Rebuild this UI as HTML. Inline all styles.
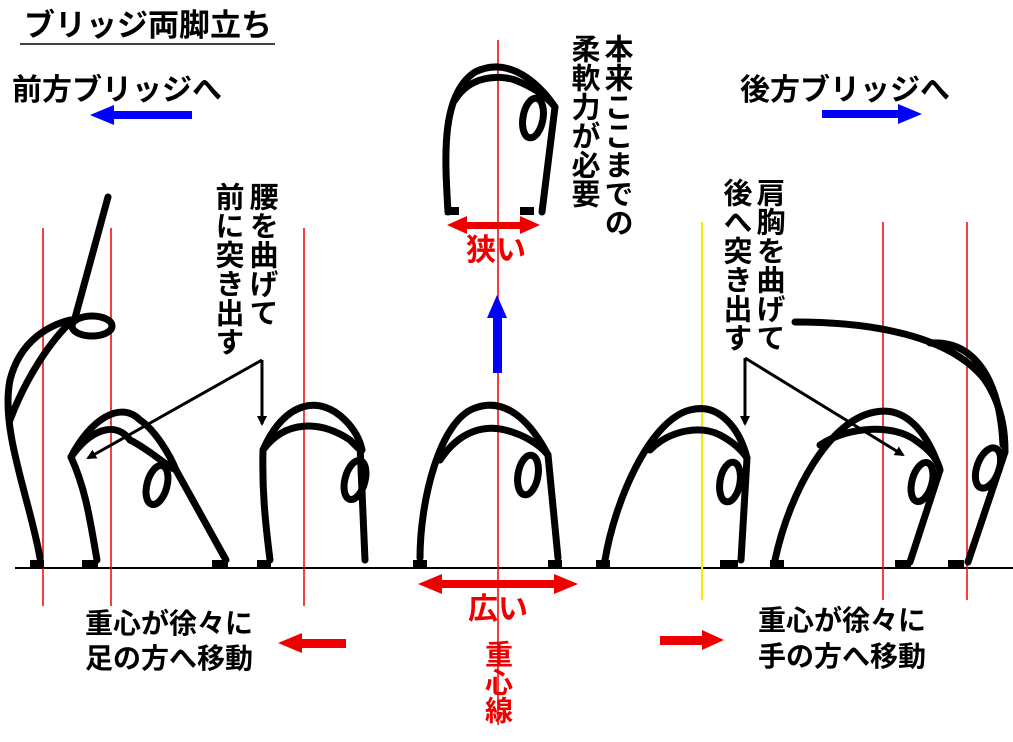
<!DOCTYPE html>
<html><head><meta charset="utf-8"><style>
body{margin:0;width:1013px;height:742px;background:#fff;overflow:hidden;position:relative;font-family:"Liberation Sans","Noto Sans CJK JP",sans-serif}
.t{position:absolute;white-space:nowrap;font-weight:bold;color:#000;line-height:1}
.v{position:absolute;writing-mode:vertical-rl;font-size:29px;line-height:1;font-weight:bold;color:#000}
svg{position:absolute;left:0;top:0}
</style></head><body>
<svg width="1013" height="742" viewBox="0 0 1013 742">
<defs>
<marker id="ab" markerWidth="10" markerHeight="10" refX="8" refY="5" orient="auto" markerUnits="userSpaceOnUse"><path d="M0,0 L10,5 L0,10z" fill="#000"/></marker>
</defs>
<line x1="15" y1="568" x2="1013" y2="568" stroke="#000" stroke-width="2"/>
<g stroke="#e00" stroke-width="1.5">
<line x1="43" y1="228" x2="43" y2="606"/>
<line x1="111" y1="228" x2="111" y2="606"/>
<line x1="304" y1="228" x2="304" y2="606"/>
<line x1="498" y1="40" x2="498" y2="725"/>
<line x1="883" y1="222" x2="883" y2="600"/>
<line x1="967" y1="222" x2="967" y2="600"/>
</g>
<line x1="702" y1="222" x2="702" y2="600" stroke="#ee0" stroke-width="2"/>
<g fill="none" stroke="#000" stroke-width="7" stroke-linecap="round" stroke-linejoin="round">
<path d="M40,558 C30,500 0,430 10,380 C20,340 50,325 70,320"/>
<path d="M10,420 C25,380 50,340 75,318"/>
<path d="M75,318 L108,197"/>
<ellipse cx="92" cy="326" rx="20" ry="10"/>
<path d="M97,560 C90,520 86,490 71,457 C90,420 120,400 140,420 C155,430 170,455 176,470 L226,560"/>
<path d="M71,457 C90,430 115,420 130,440 C150,450 165,465 176,470"/>
<ellipse cx="157" cy="485" rx="10" ry="20" transform="rotate(15 157 485)"/>
<path d="M270,560 C265,520 262,490 263,450 C285,400 320,395 345,420 C355,430 360,440 362,450"/>
<path d="M263,450 C285,420 320,420 350,440 L358,448"/>
<path d="M360,445 L365,560"/>
<ellipse cx="355" cy="480" rx="10" ry="20" transform="rotate(15 355 480)"/>
<path d="M420,558 C420,500 440,420 475,408 C510,395 535,430 548,455"/>
<path d="M440,460 C460,430 485,425 505,430 C525,435 540,445 548,455"/>
<path d="M548,455 L558,558"/>
<ellipse cx="528" cy="475" rx="10" ry="20" transform="rotate(10 528 475)"/>
<path d="M448,212 C445,160 440,95 475,72 C510,55 540,85 555,107 L542,212"/>
<path d="M455,100 C470,75 500,75 515,80 C535,88 548,98 555,107"/>
<ellipse cx="533" cy="118" rx="10" ry="20" transform="rotate(10 533 118)"/>
<path d="M605,560 C615,500 650,420 690,410 C720,402 740,430 747,458 L741,560"/>
<path d="M650,450 C670,430 700,425 720,435 C735,443 743,452 747,458"/>
<ellipse cx="730" cy="482" rx="10" ry="20" transform="rotate(10 730 482)"/>
<path d="M775,560 C790,490 830,420 875,412 C910,405 930,440 940,470 L910,562"/>
<path d="M820,445 C850,425 895,425 915,440 C930,450 938,460 940,470"/>
<ellipse cx="922" cy="482" rx="10" ry="20" transform="rotate(15 922 482)"/>
<path d="M795,322 C870,322 950,335 985,380 C1005,410 1005,440 1005,452 L968,562"/>
<path d="M930,343 C975,340 1000,380 1003,445"/>
<ellipse cx="988" cy="468" rx="11" ry="21" transform="rotate(20 988 468)"/>
</g>
<g fill="#000">
<rect x="30" y="560" width="14" height="8"/><rect x="82" y="560" width="16" height="8"/><rect x="212" y="560" width="16" height="8"/>
<rect x="257" y="560" width="14" height="8"/><rect x="413" y="560" width="14" height="8"/><rect x="548" y="560" width="14" height="8"/>
<rect x="596" y="560" width="14" height="8"/><rect x="720" y="560" width="18" height="8"/><rect x="770" y="560" width="14" height="8"/>
<rect x="895" y="560" width="16" height="8"/><rect x="948" y="560" width="16" height="8"/>
<rect x="445" y="207" width="14" height="8"/><rect x="520" y="207" width="14" height="8"/>
</g>
<g stroke="#000" stroke-width="3" fill="none" marker-end="url(#ab)">
<path d="M262,360 L262,424"/>
<path d="M262,360 L88,458"/>
<path d="M745,358 L745,424"/>
<path d="M745,358 L903,455"/>
</g>
<g fill="#00f">
<rect x="112" y="111" width="80" height="8"/><path d="M90,115 L114,105 L114,125z"/>
<rect x="822" y="110" width="78" height="8"/><path d="M922,114 L898,104 L898,124z"/>
<rect x="493" y="315" width="9" height="58"/><path d="M497,295 L487,318 L507,318z"/>
</g>
<g fill="#e00">
<rect x="438" y="580" width="120" height="8"/><path d="M418,584 L442,574 L442,594z"/><path d="M578,584 L554,574 L554,594z"/>
<rect x="463" y="222" width="60" height="7"/><path d="M447,225 L467,216 L467,234z"/><path d="M540,225 L520,216 L520,234z"/>
<rect x="300" y="639" width="46" height="9"/><path d="M278,643 L302,633 L302,653z"/>
<rect x="660" y="636" width="44" height="9"/><path d="M724,640 L702,630 L702,650z"/>
</g>
<line x1="20" y1="44" x2="275" y2="44" stroke="#000" stroke-width="1.5"/>
</svg>
<div class="t" style="left:24px;top:10px;font-size:31px">ブリッジ両脚立ち</div>
<div class="t" style="left:12px;top:76px;font-size:30px">前方ブリッジへ</div>
<div class="t" style="left:740px;top:76px;font-size:30px">後方ブリッジへ</div>
<div class="v" style="left:601px;top:34px">本来ここまでの</div>
<div class="v" style="left:568px;top:34px">柔軟力が必要</div>
<div class="v" style="left:246px;top:182px">腰を曲げて</div>
<div class="v" style="left:212px;top:182px">前に突き出す</div>
<div class="v" style="left:753px;top:178px">肩胸を曲げて</div>
<div class="v" style="left:720px;top:178px">後へ突き出す</div>
<div class="t" style="left:85px;top:610px;font-size:28px">重心が徐々に</div>
<div class="t" style="left:85px;top:645px;font-size:28px">足の方へ移動</div>
<div class="t" style="left:758px;top:607px;font-size:28px">重心が徐々に</div>
<div class="t" style="left:758px;top:643px;font-size:28px">手の方へ移動</div>
<div class="t" style="left:468px;top:595px;font-size:30px;color:#e00">広い</div>
<div class="t" style="left:466px;top:236px;font-size:30px;color:#e00">狭い</div>
<div class="v" style="left:483px;top:640px;font-size:28px;color:#e00">重心線</div>
</body></html>
